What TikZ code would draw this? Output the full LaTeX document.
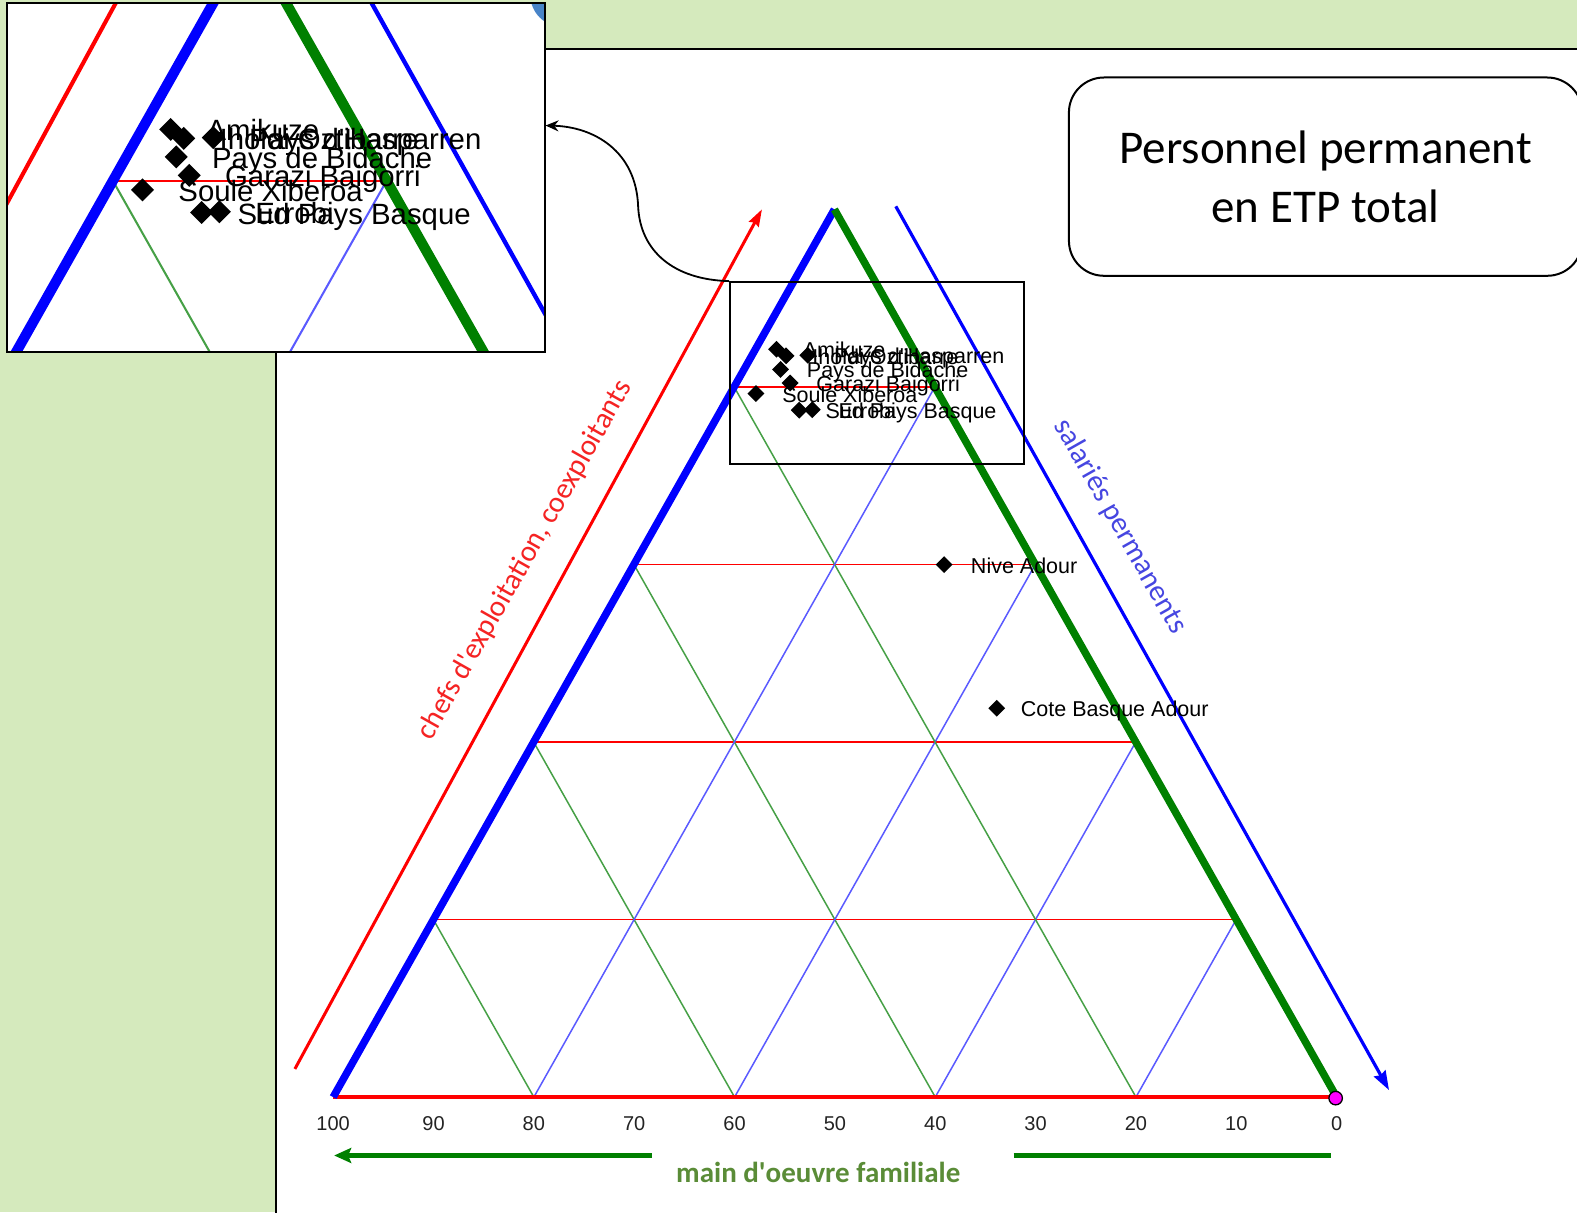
\documentclass[tikz,border=0pt]{standalone}
\usepackage{fontspec}
\setmainfont{Carlito}
\newfontfamily\arialf{Liberation Sans}
\usetikzlibrary{calc,arrows.meta,shapes.geometric}

\definecolor{bggreen}{RGB}{213,234,189}
\definecolor{tgreen}{RGB}{0,128,0}
\definecolor{thingreen}{RGB}{70,160,70}
\definecolor{thinblue}{RGB}{90,90,255}
\definecolor{lblred}{RGB}{245,35,35}
\definecolor{lblblue}{RGB}{70,70,225}
\definecolor{lblgreen}{RGB}{90,140,55}
\definecolor{insetblue}{RGB}{72,132,200}
\definecolor{tickgray}{RGB}{35,35,35}
\definecolor{markpink}{RGB}{255,0,255}

\newcommand\LWf{1}
\tikzset{
  gridred/.style={draw=red, line width=\LWf*1.5pt},
  gridgreen/.style={draw=thingreen, line width=\LWf*1.5pt},
  gridblue/.style={draw=thinblue, line width=\LWf*1.5pt},
  edgered/.style={draw=red, line width=\LWf*4pt},
  edgeblue/.style={draw=blue, line width=\LWf*7.5pt},
  edgegreen/.style={draw=tgreen, line width=\LWf*7.5pt},
  axred/.style={draw=red, line width=\LWf*3pt},
  axblue/.style={draw=blue, line width=\LWf*3.2pt},
  axgreen/.style={draw=tgreen, line width=5pt},
  dia/.style={shape=diamond, fill=black, minimum width=17pt, minimum height=17pt, inner sep=0pt},
  lbl/.style={font=\arialf\fontsize{21.5}{25}\selectfont, inner sep=0pt, anchor=base west, text=black},
  tick/.style={font=\arialf\fontsize{20}{24}\selectfont, text=tickgray, inner sep=0pt},
  axlabel/.style={font=\fontsize{29.5}{34}\selectfont, inner sep=0pt},
  boxline/.style={draw=black, line width=1.8pt},
  curvearrow/.style={draw=black, line width=1.8pt, -{Stealth[length=13pt,width=11pt]}},
}

\newcommand\ternary{%
  \foreach \k in {0.2,0.4,0.6,0.8}{%
    \draw[gridgreen] (331+498*\k,1090-882*\k) -- (331+997*\k,1090);
    \draw[gridblue] (1328-499*\k,1090-882*\k) -- (1328-997*\k,1090);
    \draw[gridred] (331+498*\k,1090-882*\k) -- (1328-499*\k,1090-882*\k);
  }
  \draw[edgered] (331,1090) -- (1328,1090);
  \draw[edgeblue] (331,1090) -- (829,208);
  \draw[edgegreen] (829,208) -- (1328,1090);
  \draw[axred,-{Stealth[length=17pt,width=11pt,inset=2pt]}] (293,1062) -- (757,208);
  \draw[axblue,-{Stealth[length=19pt,width=13pt,inset=2pt]}] (890,205) -- (1380,1083);
  \node[dia] (d1) at (771.5,347) {};
  \node[dia] (d2) at (781,353.5) {};
  \node[dia] (d3) at (802.5,353) {};
  \node[dia] (d4) at (775.5,367) {};
  \node[dia] (d5) at (785,380.5) {};
  \node[dia] (d6) at (751,391) {};
  \node[dia] (d7) at (794,407.5) {};
  \node[dia] (d8) at (807,407) {};
  \node[dia] (d9) at (938,561) {};
  \node[dia] (d10) at (990.3,703.7) {};
  \node[lbl] (l1) at (797.5,355.4) {Amikuze};
  \node[lbl] (l2) at (807,361.9) {Iholdi Oztibarre};
  \node[lbl] (l3) at (828.5,361.4) {Pays d\textquotesingle Hasparren};
  \node[lbl] (l4) at (801.5,375.4) {Pays de Bidache};
  \node[lbl] (l5) at (811,388.9) {Garazi Baigorri};
  \node[lbl] (l6) at (777,399.4) {Soule Xiberoa};
  \node[lbl] (l7) at (820,415.9) {Sud Pays Basque};
  \node[lbl] (l8) at (833,415.4) {Errobi};
  \node[lbl] (l9) at (964.5,569.4) {Nive Adour};
  \node[lbl] (l10) at (1014.1,712.1) {Cote Basque Adour};
}

\begin{document}
\begin{tikzpicture}[x=1.0065pt,y=-1.0065pt]
  \useasboundingbox (0,0) rectangle (1566.8,1204.2);
  \fill[bggreen] (0,0) rectangle (1566.8,1204.2);
  \fill[white] (274,48.5) rectangle (1566.8,1204.2);
  \draw[line width=2pt] (274,1210) -- (274,48.5) -- (1570,48.5);

  % main chart
  \ternary
  \foreach \i in {0,...,10}{%
    \pgfmathtruncatemacro\v{100-10*\i}
    \node[tick] (t\i) at (331+99.7*\i,1116) {\v};
  }
  \node[circle, fill=markpink, draw=black, line width=1.3pt, minimum size=13.5pt, inner sep=0pt] (pm) at (1327,1091) {};
  \draw[axgreen,-{Stealth[length=17pt,width=15pt,inset=3pt]}] (648,1148) -- (332,1148);
  \draw[axgreen] (1007,1148) -- (1322,1148);
  \node[axlabel, text=lblgreen, font=\bfseries\fontsize{29}{34}\selectfont] (lg) at (813,1165) {main d\textquotesingle oeuvre familiale};
  \node[axlabel, text=lblred, rotate=60.5] (lr) at (521.5,556.5) {chefs d\textquotesingle exploitation, coexploitants};
  \node[axlabel, text=lblblue, rotate=-60.5] (lb) at (1113,523) {salariés permanents};

  % title
  \node[draw=black, line width=2pt, rounded corners=35pt, fill=white, minimum width=513.3pt, minimum height=198.3pt, inner sep=0pt, align=center, font=\fontsize{47}{58.5}\selectfont] (title) at (1317,175.5) {Personnel permanent\\en ETP total};

  % zoom box
  \node[boxline, minimum width=294pt, minimum height=182pt, inner sep=0pt] (zbox) at (871.35,370.6) {};

  % inset
  \begin{scope}
    \clip (7,3) rectangle (541,350);
    \fill[white] (7,3) rectangle (541,350);
    \begin{scope}[shift={(-882.756,-344.712)}, scale=1.364, transform shape, name prefix=z-]
      \renewcommand\LWf{1.364}
      \ternary
    \end{scope}
    \fill[insetblue] (558.4,-5) circle[radius=31.5];
  \end{scope}
  \node[draw=black, line width=2pt, minimum width=537.5pt, minimum height=349.3pt, inner sep=0pt] (inset) at (274,176.5) {};

  \draw[curvearrow] (zbox.north west) .. controls (670,278) and (636,250) .. (634,205)
     .. controls (632,150) and (590,126) .. ($(inset.north east)!0.3516!(inset.south east)$);
\end{tikzpicture}
\end{document}
